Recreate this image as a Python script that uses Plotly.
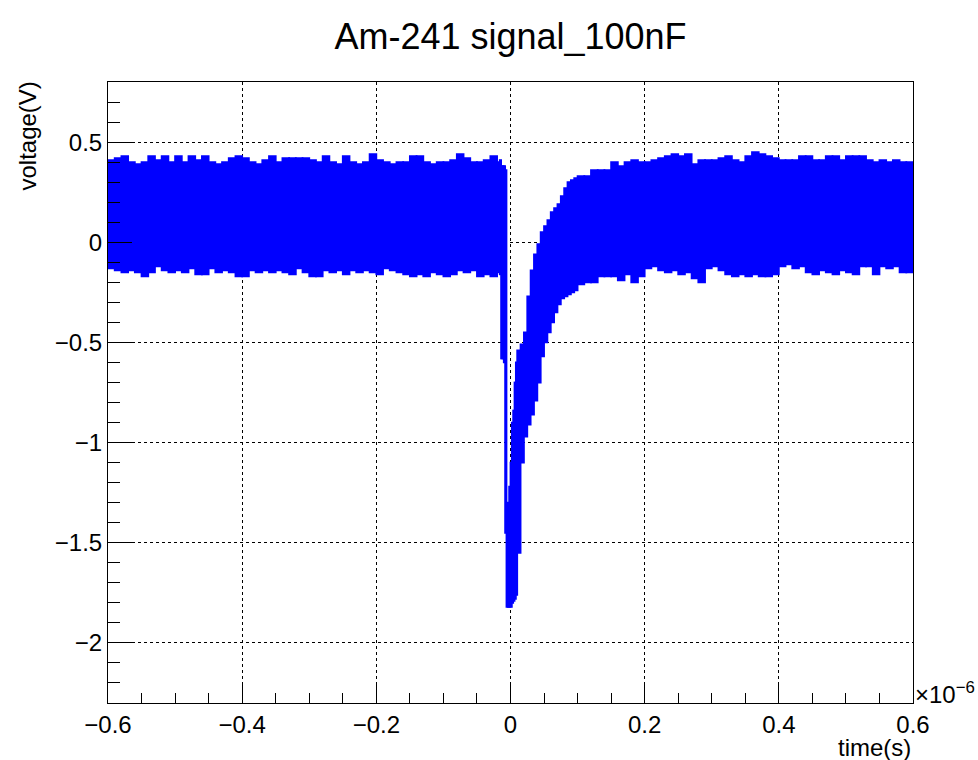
import numpy as np
import plotly.graph_objects as go

# ---------------- data (time in units of 1e-6 s, voltage in V) ----------------
# baseline before the pulse: bin centres every 0.01
t_pre = [round(-0.595 + 0.01 * i, 3) for i in range(58)]
hi_pre = [0.41, 0.42, 0.43, 0.40, 0.39, 0.40, 0.43, 0.41, 0.43, 0.40,
          0.43, 0.40, 0.43, 0.41, 0.43, 0.40, 0.39, 0.40, 0.42, 0.43,
          0.42, 0.40, 0.39, 0.41, 0.43, 0.40, 0.42, 0.42, 0.42, 0.42,
          0.41, 0.40, 0.43, 0.40, 0.39, 0.43, 0.40, 0.39, 0.40, 0.44,
          0.41, 0.40, 0.39, 0.40, 0.40, 0.43, 0.43, 0.40, 0.39, 0.40,
          0.40, 0.41, 0.44, 0.42, 0.40, 0.40, 0.41, 0.43]
lo_pre = [-0.13, -0.14, -0.15, -0.14, -0.15, -0.17, -0.15, -0.12, -0.14, -0.15,
          -0.14, -0.15, -0.13, -0.16, -0.16, -0.13, -0.15, -0.14, -0.15, -0.17,
          -0.17, -0.14, -0.15, -0.14, -0.15, -0.14, -0.15, -0.16, -0.13, -0.15,
          -0.17, -0.17, -0.14, -0.15, -0.14, -0.16, -0.14, -0.15, -0.14, -0.15,
          -0.16, -0.13, -0.14, -0.15, -0.16, -0.17, -0.16, -0.17, -0.15, -0.16,
          -0.17, -0.16, -0.14, -0.15, -0.14, -0.17, -0.16, -0.17]

# fast falling edge: bin centres every 0.002
t_edge = [-0.019, -0.017, -0.015, -0.013, -0.011, -0.009, -0.007, -0.005,
          -0.003, -0.001, 0.001, 0.003, 0.005, 0.007, 0.009]
hi_edge = [0.40, 0.39, 0.41, 0.38, 0.38, 0.38, 0.36, -1.36,
           -1.30, -1.22, -1.10, -0.90, -0.84, -0.70, -0.60]
lo_edge = [-0.14, -0.15, -0.16, -0.58, -0.58, -0.60, -1.45, -1.82,
           -1.82, -1.82, -1.82, -1.80, -1.79, -1.78, -1.76]

# recovery: bin centres every 0.005
t_rec = [round(0.0125 + 0.005 * i, 4) for i in range(18)]
hi_rec = [-0.54, -0.51, -0.45, -0.27, -0.14, -0.06, -0.01, 0.05, 0.08,
          0.11, 0.15, 0.17, 0.19, 0.23, 0.27, 0.30, 0.31, 0.32]
lo_rec = [-1.55, -1.10, -0.97, -0.91, -0.86, -0.79, -0.70, -0.57, -0.50,
          -0.45, -0.40, -0.35, -0.31, -0.28, -0.27, -0.26, -0.25, -0.24]

# baseline after the pulse: bin centres every 0.01
t_post = [round(0.105 + 0.01 * i, 3) for i in range(50)]
hi_post = [0.33, 0.33, 0.36, 0.36, 0.36, 0.40, 0.38, 0.40, 0.41, 0.40,
           0.40, 0.41, 0.42, 0.43, 0.44, 0.43, 0.44, 0.39, 0.41, 0.41,
           0.41, 0.42, 0.43, 0.41, 0.40, 0.43, 0.45, 0.44, 0.43, 0.42,
           0.41, 0.41, 0.41, 0.43, 0.43, 0.41, 0.41, 0.43, 0.43, 0.41,
           0.43, 0.43, 0.43, 0.41, 0.40, 0.41, 0.40, 0.41, 0.40, 0.40]
lo_post = [-0.21, -0.20, -0.20, -0.17, -0.17, -0.17, -0.19, -0.16, -0.20, -0.17,
           -0.13, -0.12, -0.14, -0.15, -0.14, -0.16, -0.15, -0.18, -0.20, -0.13,
           -0.12, -0.14, -0.16, -0.17, -0.16, -0.17, -0.16, -0.17, -0.17, -0.16,
           -0.12, -0.11, -0.13, -0.12, -0.15, -0.16, -0.14, -0.15, -0.16, -0.14,
           -0.15, -0.16, -0.12, -0.12, -0.16, -0.12, -0.13, -0.12, -0.15, -0.15]

x_ticks = [-0.6, -0.4, -0.2, 0, 0.2, 0.4, 0.6]
y_ticks = [-2, -1.5, -1, -0.5, 0, 0.5]

segments = [(t_pre, hi_pre, lo_pre), (t_edge, hi_edge, lo_edge),
            (t_rec, hi_rec, lo_rec), (t_post, hi_post, lo_post)]

xs, bases, heights, widths = [], [], [], []
for t, hi, lo in segments:
    t = np.array(t, float)
    hi = np.array(hi, float)
    lo = np.array(lo, float)
    w = float(np.median(np.diff(t)))
    xs.extend(t.tolist())
    bases.extend(lo.tolist())
    heights.extend((hi - lo).tolist())
    widths.extend([w] * len(t))

BLUE = "#0000ff"
FONT = "Liberation Sans, Arial, Helvetica, sans-serif"

fig = go.Figure()
fig.add_trace(go.Bar(x=xs, y=heights, base=bases, width=widths,
                     marker=dict(color=BLUE, line=dict(width=1.8, color=BLUE)),
                     showlegend=False, hoverinfo="skip"))

fig.update_layout(
    width=978, height=760,
    margin=dict(l=108, r=65, t=82, b=57),
    paper_bgcolor="white", plot_bgcolor="white",
    font=dict(family=FONT, size=24, color="black"),
    title=dict(text="Am-241 signal_100nF", x=0.5, xref="paper",
               y=1 - 36 / 760, yref="container", yanchor="middle",
               xanchor="center", font=dict(size=36, family=FONT)),
    barmode="overlay",
)

fig.update_xaxes(
    range=[-0.6, 0.6], tickvals=x_ticks,
    ticktext=[("\u2212" if v < 0 else "") + (f"{abs(v):g}") for v in x_ticks],
    ticks="inside", ticklen=19, tickwidth=1, tickcolor="black",
    minor=dict(dtick=0.05, tick0=0, ticks="inside", ticklen=10,
               tickcolor="black", showgrid=False),
    showline=True, linecolor="black", linewidth=1, mirror=True,
    showgrid=True, gridcolor="black", griddash="dot", gridwidth=1,
    zeroline=False, tickfont=dict(size=24), ticklabelstandoff=0,
)
fig.update_yaxes(
    range=[-2.3, 0.8], tickvals=y_ticks,
    ticktext=[("\u2212" if v < 0 else "") + (f"{abs(v):g}") for v in y_ticks],
    ticks="inside", ticklen=24, tickwidth=1, tickcolor="black",
    minor=dict(dtick=0.1, tick0=0, ticks="inside", ticklen=12,
               tickcolor="black", showgrid=False),
    showline=True, linecolor="black", linewidth=1, mirror=True,
    showgrid=True, gridcolor="black", griddash="dot", gridwidth=1,
    zeroline=False, tickfont=dict(size=24),
)

fig.add_annotation(text="time(s)", xref="paper", yref="paper", x=1, y=-0.072,
                   xanchor="right", yanchor="middle", showarrow=False,
                   font=dict(size=24))
fig.add_annotation(text="voltage(V)", xref="paper", yref="paper",
                   x=-0.1, y=1.004, xanchor="center", yanchor="top",
                   textangle=-90, showarrow=False, font=dict(size=24))
fig.add_annotation(text="\u00d710<sup>\u22126</sup>", xref="paper", yref="paper",
                   x=1, y=0.0, xanchor="left", yanchor="middle", xshift=0,
                   yshift=10, showarrow=False, font=dict(size=24))

fig.write_html("out.html")
